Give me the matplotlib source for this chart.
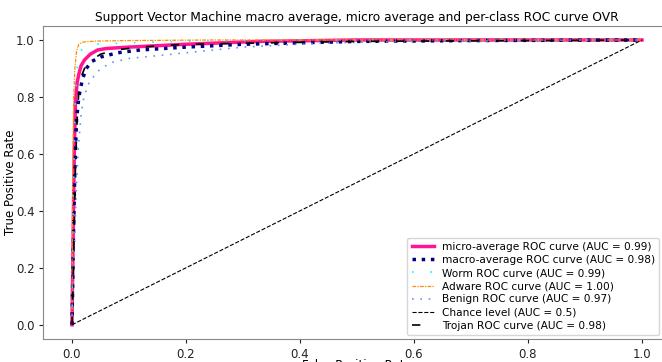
import matplotlib
matplotlib.use("Agg")
import matplotlib.pyplot as plt

# ROC points
microFpr = [0.0, 0.002, 0.004, 0.006, 0.009, 0.012, 0.016, 0.022, 0.032, 0.045, 0.06, 0.1, 0.2, 0.33, 0.5, 1.0]
microTpr = [0.0, 0.3, 0.6, 0.78, 0.85, 0.88, 0.91, 0.93, 0.95, 0.965, 0.97, 0.975, 0.985, 0.995, 1.0, 1.0]

macroFpr = [0.0, 0.002, 0.005, 0.008, 0.012, 0.018, 0.025, 0.035, 0.05, 0.08, 0.12, 0.2, 0.3, 0.5, 0.7, 1.0]
macroTpr = [0.0, 0.25, 0.55, 0.72, 0.8, 0.86, 0.9, 0.925, 0.94, 0.955, 0.965, 0.975, 0.985, 0.995, 0.998, 1.0]

wormFpr = [0.0, 0.002, 0.005, 0.008, 0.012, 0.02, 0.04, 0.1, 0.2, 0.35, 1.0]
wormTpr = [0.0, 0.4, 0.75, 0.88, 0.95, 0.975, 0.985, 0.99, 0.995, 1.0, 1.0]

adwareFpr = [0.0, 0.001, 0.003, 0.005, 0.008, 0.012, 0.02, 0.04, 0.1, 0.25, 1.0]
adwareTpr = [0.0, 0.5, 0.8, 0.9, 0.96, 0.985, 0.993, 0.996, 0.998, 1.0, 1.0]

benignFpr = [0.0, 0.003, 0.007, 0.011, 0.016, 0.021, 0.03, 0.045, 0.067, 0.1, 0.15, 0.2, 0.3, 0.45, 0.6, 1.0]
benignTpr = [0.0, 0.2, 0.45, 0.62, 0.74, 0.8, 0.85, 0.89, 0.92, 0.935, 0.945, 0.955, 0.975, 0.99, 0.995, 1.0]

trojanFpr = [0.0, 0.003, 0.006, 0.009, 0.012, 0.016, 0.022, 0.035, 0.05, 0.077, 0.12, 0.2, 0.35, 0.5, 1.0]
trojanTpr = [0.0, 0.25, 0.55, 0.72, 0.82, 0.87, 0.9, 0.93, 0.95, 0.965, 0.975, 0.985, 0.99, 0.995, 1.0]

chanceX = [0, 1]
chanceY = [0, 1]

fig = plt.figure(figsize=(6.62, 3.62), dpi=100)
ax = fig.add_axes([0.0657, 0.0635, 0.947, 0.8654])

ax.plot(microFpr, microTpr, color='deeppink', linestyle='-', linewidth=2.5,
        label='micro-average ROC curve (AUC = 0.99)')
ax.plot(macroFpr, macroTpr, color='navy', linestyle=':', linewidth=2.5,
        label='macro-average ROC curve (AUC = 0.98)')
ax.plot(wormFpr, wormTpr, color='aqua', linestyle=(0, (1, 10)), linewidth=1.2,
        label='Worm ROC curve (AUC = 0.99)')
ax.plot(adwareFpr, adwareTpr, color='darkorange', linestyle=(0, (3, 1, 1, 1)), linewidth=0.9,
        label='Adware ROC curve (AUC = 1.00)')
ax.plot(benignFpr, benignTpr, color='cornflowerblue', linestyle=(0, (1, 4)), linewidth=1.2,
        label='Benign ROC curve (AUC = 0.97)')
ax.plot(chanceX, chanceY, color='k', linestyle='--', linewidth=0.8,
        label='Chance level (AUC = 0.5)')
ax.plot(trojanFpr, trojanTpr, color='k', linestyle=(0, (5, 10)), linewidth=1.2,
        label='Trojan ROC curve (AUC = 0.98)')

ax.set_xlim(-0.05, 1.05)
ax.set_ylim(-0.05, 1.05)
for spine in ax.spines.values():
    spine.set_color('#888888')
ax.tick_params(labelsize=8.5, colors='#222222', length=3)
ax.set_xlabel('False Positive Rate', fontsize=8.5)
ax.set_ylabel('True Positive Rate', fontsize=8.5)
ax.yaxis.set_label_coords(-0.042, 0.5)
ax.xaxis.set_label_coords(0.5, -0.065)
ax.xaxis.label.set_va('top')
fig.text(357 / 662, 1 - 17.5 / 362, 'Support Vector Machine macro average, micro average and per-class ROC curve OVR',
         ha='center', va='center', fontsize=8.8)

ax.legend(loc='lower right', bbox_to_anchor=(659 / 662, 27 / 362), bbox_transform=fig.transFigure,
          fontsize=7.6, borderaxespad=0, labelspacing=0.3, handlelength=2.1,
          handletextpad=0.75, borderpad=0.4)

fig.savefig('out.png', dpi=100)
